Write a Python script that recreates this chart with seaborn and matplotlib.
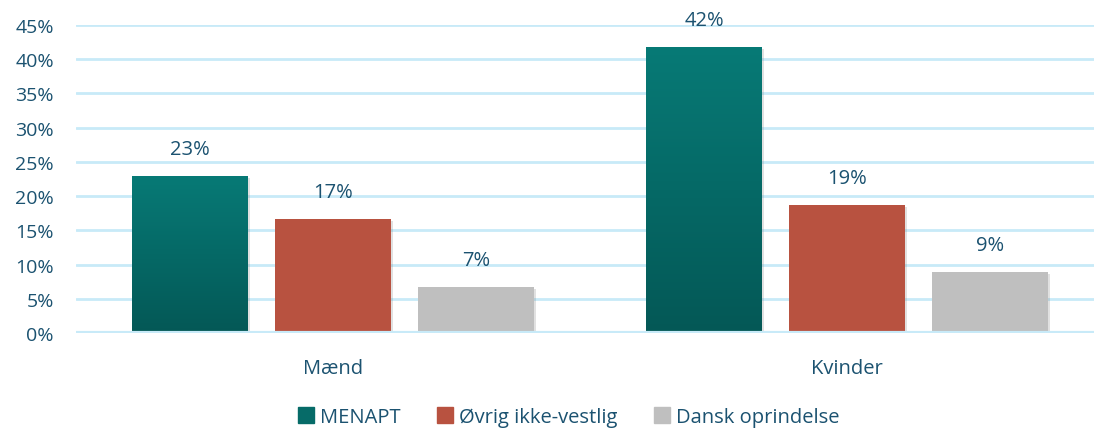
import numpy as np
import pandas as pd
import matplotlib.pyplot as plt
import seaborn as sns
from matplotlib import patheffects as pe
from matplotlib.colors import LinearSegmentedColormap

sns.set_theme(style="white")
plt.rcParams['font.family'] = ['Open Sans', 'DejaVu Sans']

# Data
groups = ["Mænd", "Kvinder"]
series = ["MENAPT", "Øvrig ikke-vestlig", "Dansk oprindelse"]
menapt = [23.0, 41.8]
ovrig = [16.7, 18.7]
dansk = [6.7, 8.9]
labels_menapt = ["23%", "42%"]
labels_ovrig = ["17%", "19%"]
labels_dansk = ["7%", "9%"]

rows = []
for vals, name in zip([menapt, ovrig, dansk], series):
    for g, v in zip(groups, vals):
        rows.append({"group": g, "series": name, "value": v})
df = pd.DataFrame(rows)

colors = ["#067a76", "#b85240", "#bfbfbf"]
text_col = "#1b5270"
grid_col = "#c8eaf8"

fig = plt.figure(figsize=(10.94, 4.31), dpi=100)
ax = fig.add_axes([76 / 1094, (431 - 334) / 431, 1 - 76 / 1094, (334 - 26) / 431])

sns.barplot(data=df, x="group", y="value", hue="series", order=groups,
            hue_order=series, palette=colors, width=0.835, gap=0.19,
            saturation=1, linewidth=0, ax=ax, legend=False, zorder=3)

ax.set_yticks(np.arange(0, 46, 5))
ax.set_yticklabels([f"{t}%" for t in range(0, 46, 5)])
ax.grid(axis="y", color=grid_col, linewidth=2, zorder=0)
ax.axhline(0, color=grid_col, linewidth=3, zorder=4)
for s in ax.spines.values():
    s.set_visible(False)
ax.tick_params(axis="y", labelsize=14, labelcolor=text_col, length=0, pad=16)
ax.tick_params(axis="x", labelsize=14.5, labelcolor=text_col, length=0, pad=18)
ax.set_xlabel("")
ax.set_ylabel("")

# soft shadows on bars
for cont in ax.containers:
    for bar in cont:
        bar.set_path_effects([pe.SimplePatchShadow(offset=(1.5, -1.5), shadow_rgbFace="#888888", alpha=0.25), pe.Normal()])

# gradient for MENAPT bars
grad = np.linspace(0, 1, 256).reshape(-1, 1)
cmap = LinearSegmentedColormap.from_list("teal", ["#045856", "#077a76"])
for bar in ax.containers[0]:
    x0, y0 = bar.get_x(), bar.get_y()
    w, h = bar.get_width(), bar.get_height()
    im = ax.imshow(grad, cmap=cmap, extent=(x0, x0 + w, y0, y0 + h),
                   origin="lower", aspect="auto", zorder=3.5)
    im.set_clip_path(bar)
ax.set_xlim(-0.5, 1.48)
ax.set_ylim(0, 45)

# value labels
for cont, labs in zip(ax.containers, [labels_menapt, labels_ovrig, labels_dansk]):
    ax.bar_label(cont, labels=labs, padding=12, fontsize=14.5, color=text_col)

# legend
handles = [plt.Rectangle((0, 0), 1, 1, color=c) for c in ["#066b68", colors[1], colors[2]]]
fig.legend(handles, series, loc="center", bbox_to_anchor=(569 / 1094, 1 - 418 / 431),
           ncol=3, frameon=False, fontsize=14.5, labelcolor=text_col,
           handlelength=0.8, handleheight=0.8, handletextpad=0.3, columnspacing=1.8)

fig.savefig("out.png", dpi=100)
